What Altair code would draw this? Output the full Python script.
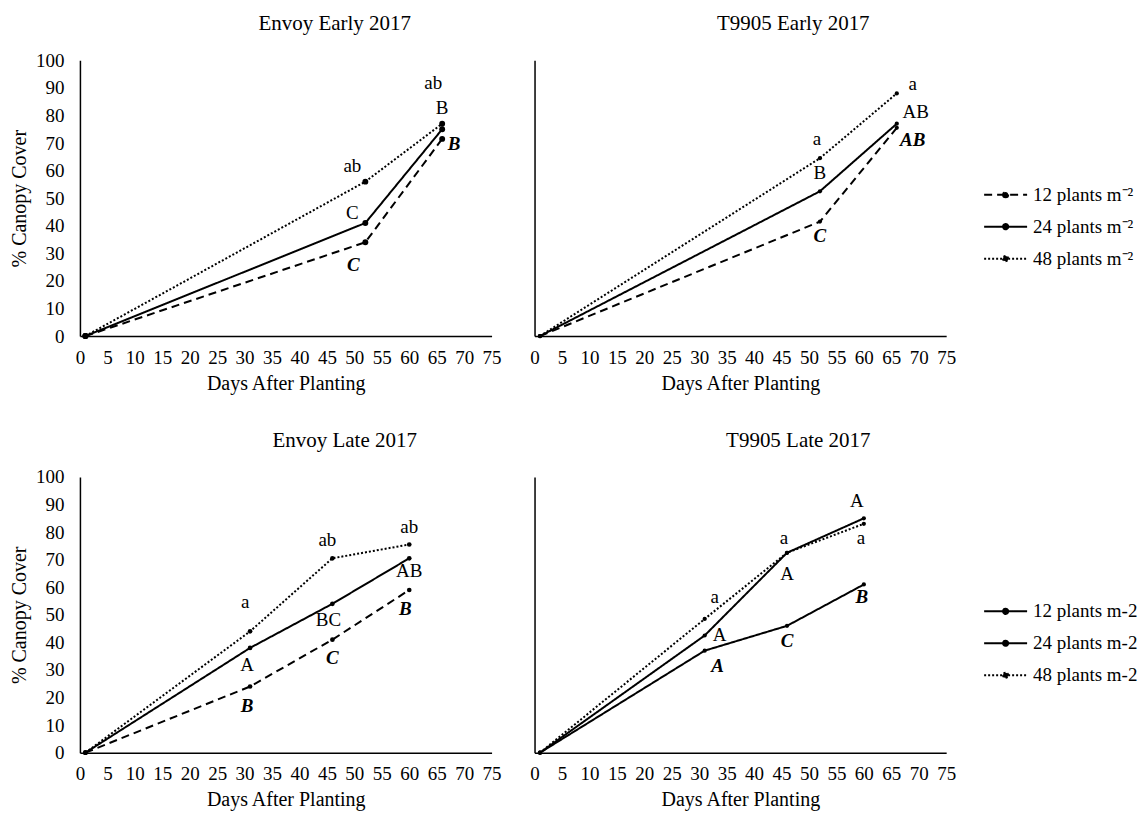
import altair as alt
import pandas as pd

# ---------------- data ----------------
EARLY_DAYS = [1, 52, 66]
LATE_DAYS = [1, 31, 46, 60]

TOP_SERIES = ["12 plants m\u207b\u00b2", "24 plants m\u207b\u00b2", "48 plants m\u207b\u00b2"]
BOTTOM_SERIES = ["12 plants m-2", "24 plants m-2", "48 plants m-2"]

ENVOY_EARLY_12 = [0, 34, 71.5]
ENVOY_EARLY_24 = [0, 41, 75]
ENVOY_EARLY_48 = [0, 56, 77]
T9905_EARLY_12 = [0, 41.5, 75.5]
T9905_EARLY_24 = [0, 52.5, 77]
T9905_EARLY_48 = [0, 64.5, 88]
ENVOY_LATE_12 = [0, 24, 41, 59]
ENVOY_LATE_24 = [0, 38, 54, 70.5]
ENVOY_LATE_48 = [0, 44, 70.5, 75.5]
T9905_LATE_12 = [0, 37, 46, 61]
T9905_LATE_24 = [0, 42.5, 72.5, 85]
T9905_LATE_48 = [0, 48.5, 72.5, 83]

# significance letters
ENVOY_EARLY_12_LET = ["", "C", "B"]
ENVOY_EARLY_24_LET = ["", "C", "B"]
ENVOY_EARLY_48_LET = ["", "ab", "ab"]
T9905_EARLY_12_LET = ["", "C", "AB"]
T9905_EARLY_24_LET = ["", "B", "AB"]
T9905_EARLY_48_LET = ["", "a", "a"]
ENVOY_LATE_12_LET = ["", "B", "C", "B"]
ENVOY_LATE_24_LET = ["", "A", "BC", "AB"]
ENVOY_LATE_48_LET = ["", "a", "ab", "ab"]
T9905_LATE_12_LET = ["", "A", "C", "B"]
T9905_LATE_24_LET = ["", "A", "A", "A"]
T9905_LATE_48_LET = ["", "a", "a", "a"]

# ---------------- styles ----------------
# pixel nudges of each letter relative to its point (dx, dy)
OFF_EE = [[(0, 0), (-12, 23), (12, 5)],
          [(0, 0), (-13, -10), (0, -21)],
          [(0, 0), (-13, -16), (-9, -41)]]
OFF_TE = [[(0, 0), (0, 14), (16, 12)],
          [(0, 0), (0, -18), (19, -12)],
          [(0, 0), (-3, -19), (16, -9)]]
OFF_EL = [[(0, 0), (-3, 20), (0, 18), (-4, 19)],
          [(0, 0), (-3, 17), (-4, 16), (0, 13)],
          [(0, 0), (-5, -29), (-5, -18), (0, -18)]]
OFF_TL = [[(0, 0), (13, 15), (0, 15), (-2, 13)],
          [(0, 0), (15, 0), (0, 21), (-7, -17)],
          [(0, 0), (10, -22), (-3, -15), (-3, 14)]]

DASH_STD = [[8, 5], [1, 0], [2, 2]]
DASH_LATE_T = [[1, 0], [1, 0], [2, 2]]

FONT = "Liberation Serif"
TICK_FS = 19
AXIS_TITLE_FS = 20
TITLE_FS = 21
LETTER_FS = 19
W, H = 412, 276
LEGEND_PATH = "M-1,0H1M-0.12,0A0.12,0.12 0 1,0 0.12,0A0.12,0.12 0 1,0 -0.12,0Z"


def panel(days, vals, lets, offs, names, dashes, title, title_dx,
          show_legend, show_y_labels, pt_size):
    rows = []
    for name, v, l, o in zip(names, vals, lets, offs):
        for d, yv, t, (dx, dy) in zip(days, v, l, o):
            rows.append(dict(series=name, day=d, cover=yv, letter=t,
                             dx=dx, dy=dy, bold=name.startswith("12")))
    df = pd.DataFrame(rows)

    x = alt.X("day:Q", scale=alt.Scale(domain=[0, 75], nice=False, zero=True),
              axis=alt.Axis(values=list(range(0, 80, 5)), title="Days After Planting",
                            labelPadding=12, titlePadding=6, labelFlush=False))
    if show_y_labels:
        yax = alt.Axis(values=list(range(0, 110, 10)), title="% Canopy Cover",
                       labelPadding=16, titlePadding=6)
    else:
        yax = alt.Axis(values=list(range(0, 110, 10)), title=None, labels=False)
    y = alt.Y("cover:Q", scale=alt.Scale(domain=[0, 100], nice=False), axis=yax)

    if show_legend:
        leg = alt.Legend(title=None, orient="none", legendX=449, legendY=127,
                         symbolType=LEGEND_PATH, symbolSize=1849, symbolStrokeWidth=2,
                         symbolStrokeColor="black", symbolFillColor="black",
                         clipHeight=15, rowPadding=12, labelFont=FONT, labelFontSize=TICK_FS,
                         labelOffset=5, labelColor="black", labelLimit=300)
    else:
        leg = None
    dash = alt.StrokeDash("series:N", scale=alt.Scale(domain=names, range=dashes), legend=leg)

    base = alt.Chart(df)
    lines = base.mark_line(color="black", strokeWidth=2).encode(x=x, y=y, strokeDash=dash)
    pts = base.mark_circle(color="black", opacity=1, size=pt_size).encode(x=x, y=y)
    reg = base.transform_filter("datum.letter != '' && !datum.bold").mark_text(
        font=FONT, fontSize=LETTER_FS, color="black", baseline="middle", align="center",
        dx=alt.expr("datum.dx"), dy=alt.expr("datum.dy")).encode(x=x, y=y, text="letter:N")
    bold = base.transform_filter("datum.letter != '' && datum.bold").mark_text(
        font=FONT, fontSize=LETTER_FS, color="black", baseline="middle", align="center",
        fontStyle="italic", fontWeight="bold",
        dx=alt.expr("datum.dx"), dy=alt.expr("datum.dy")).encode(x=x, y=y, text="letter:N")

    return alt.layer(lines, pts, reg, bold).properties(
        width=W, height=H,
        title=alt.TitleParams(title, anchor="middle", frame="group", dx=title_dx,
                              offset=17 if show_y_labels else 26),
    )


tl = panel(EARLY_DAYS, [ENVOY_EARLY_12, ENVOY_EARLY_24, ENVOY_EARLY_48],
           [ENVOY_EARLY_12_LET, ENVOY_EARLY_24_LET, ENVOY_EARLY_48_LET], OFF_EE,
           TOP_SERIES, DASH_STD, "Envoy Early 2017", 49, False, True, 35)
tr = panel(EARLY_DAYS, [T9905_EARLY_12, T9905_EARLY_24, T9905_EARLY_48],
           [T9905_EARLY_12_LET, T9905_EARLY_24_LET, T9905_EARLY_48_LET], OFF_TE,
           TOP_SERIES, DASH_STD, "T9905 Early 2017", 53, True, False, 18)
bl = panel(LATE_DAYS, [ENVOY_LATE_12, ENVOY_LATE_24, ENVOY_LATE_48],
           [ENVOY_LATE_12_LET, ENVOY_LATE_24_LET, ENVOY_LATE_48_LET], OFF_EL,
           BOTTOM_SERIES, DASH_STD, "Envoy Late 2017", 59, False, True, 22)
br = panel(LATE_DAYS, [T9905_LATE_12, T9905_LATE_24, T9905_LATE_48],
           [T9905_LATE_12_LET, T9905_LATE_24_LET, T9905_LATE_48_LET], OFF_TL,
           BOTTOM_SERIES, DASH_LATE_T, "T9905 Late 2017", 58, True, False, 18)

top = alt.hconcat(tl, tr, spacing=28).resolve_scale(strokeDash="independent").resolve_legend(strokeDash="independent")
bottom = alt.hconcat(bl, br, spacing=28).resolve_scale(strokeDash="independent").resolve_legend(strokeDash="independent")

chart = alt.vconcat(top, bottom, spacing=37).resolve_scale(
    strokeDash="independent").resolve_legend(strokeDash="independent").properties(
    padding={"left": 9, "top": 13, "right": 5, "bottom": 2},
    background="white",
).configure_view(stroke=None).configure_axis(
    grid=False, ticks=False, domainColor="black", domainWidth=1.5,
    labelFont=FONT, labelFontSize=TICK_FS, labelColor="black",
    titleFont=FONT, titleFontSize=AXIS_TITLE_FS, titleFontWeight="normal", titleColor="black",
).configure_title(font=FONT, fontSize=TITLE_FS, fontWeight="normal", color="black")

chart.save("out.html", embed_options={"renderer": "svg", "actions": False})
